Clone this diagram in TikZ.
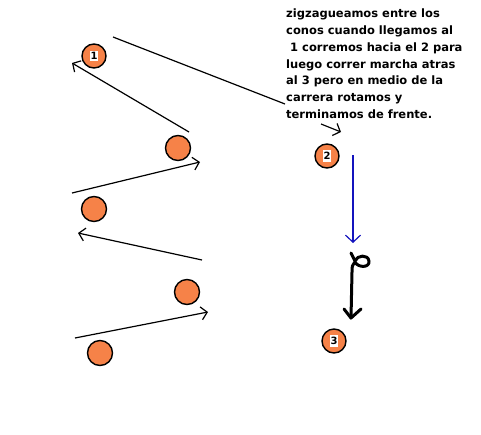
\documentclass[tikz,border=0pt]{standalone}
\usepackage{fontspec}
\setmainfont{DejaVu Sans}
\usetikzlibrary{arrows.meta, positioning}
\definecolor{conecolor}{RGB}{246,130,72}
\definecolor{runblue}{RGB}{20,20,190}
\tikzset{cone/.style={circle,draw=black,line width=1.4pt,fill=conecolor,minimum size=25pt,inner sep=0pt},
         numcone/.style={cone,minimum size=24pt},
         numbox/.style={fill=white,inner xsep=1pt,inner ysep=1.8pt,font=\bfseries\fontsize{10}{10}\selectfont},
         run/.style={draw,line width=1.2pt,-{Straight Barb[length=6pt,width=13pt]}},
         back/.style={draw=runblue,line width=1.2pt,-{Straight Barb[length=7pt,width=15pt]}},
         turn/.style={draw,line width=3pt,line cap=round,line join=round},
         note/.style={anchor=north west,align=left,fill=white,inner sep=0pt,
                      font=\bfseries\fontsize{11.5}{16.7}\selectfont}}

\begin{document}
\begin{tikzpicture}[x=1pt,y=-1pt]
\useasboundingbox (0,0) rectangle (481,434);

\coordinate (a0) at (113,37);  \coordinate (a2) at (285,104);
\coordinate (a3) at (321,124); \coordinate (a1) at (341,132);
\coordinate (b0) at (189,132); \coordinate (b1) at (72,63);
\coordinate (c0) at (72,193);  \coordinate (c1) at (200,162);
\coordinate (d0) at (202,260); \coordinate (d1) at (78,233);
\coordinate (e0) at (75,338);  \coordinate (e1) at (208,312);
\coordinate (f0) at (353,155); \coordinate (f1) at (353,243);
\coordinate (g0) at (351,253); \coordinate (g1) at (351,318);

\draw[line width=1.2pt] (a0) -- (a2);
\draw[run] (a3) -- (a1);
\node[note] (texto) at (286,9) {zigzagueamos entre los\\
conos cuando llegamos al\\
\ 1 corremos hacia el 2 para\\
luego correr marcha atras\\
al 3 pero en medio de la\\
carrera rotamos y\\
terminamos de frente.};

\draw[run] (b0) -- (b1);
\draw[run] (c0) -- (c1);
\draw[run] (d0) -- (d1);
\draw[run] (e0) -- (e1);
\draw[back] (f0) -- (f1);
\draw[turn] (g0) -- (355,261) .. controls (357,255) and (368,254) .. (369,261)
  .. controls (370,268) and (358,268) .. (355,262) .. controls (352,266) .. (352,272) -- (g1);
\draw[turn] (344,309) -- (g1) -- (361,309);

\node[cone] (k1) at (178,148) {};
\node[cone] (k2) at (94,209) {};
\node[cone] (k3) at (187,292) {};
\node[cone] (k4) at (100,353) {};
\node[numcone] (uno) at (94,56) {};
\node[numcone] (dos) at (327,156) {};
\node[numcone] (tres) at (334,341) {};
\node[numbox] (n1) at (uno) {1};
\node[numbox] (n2) at (dos) {2};
\node[numbox] (n3) at (tres) {3};
\end{tikzpicture}
\end{document}
